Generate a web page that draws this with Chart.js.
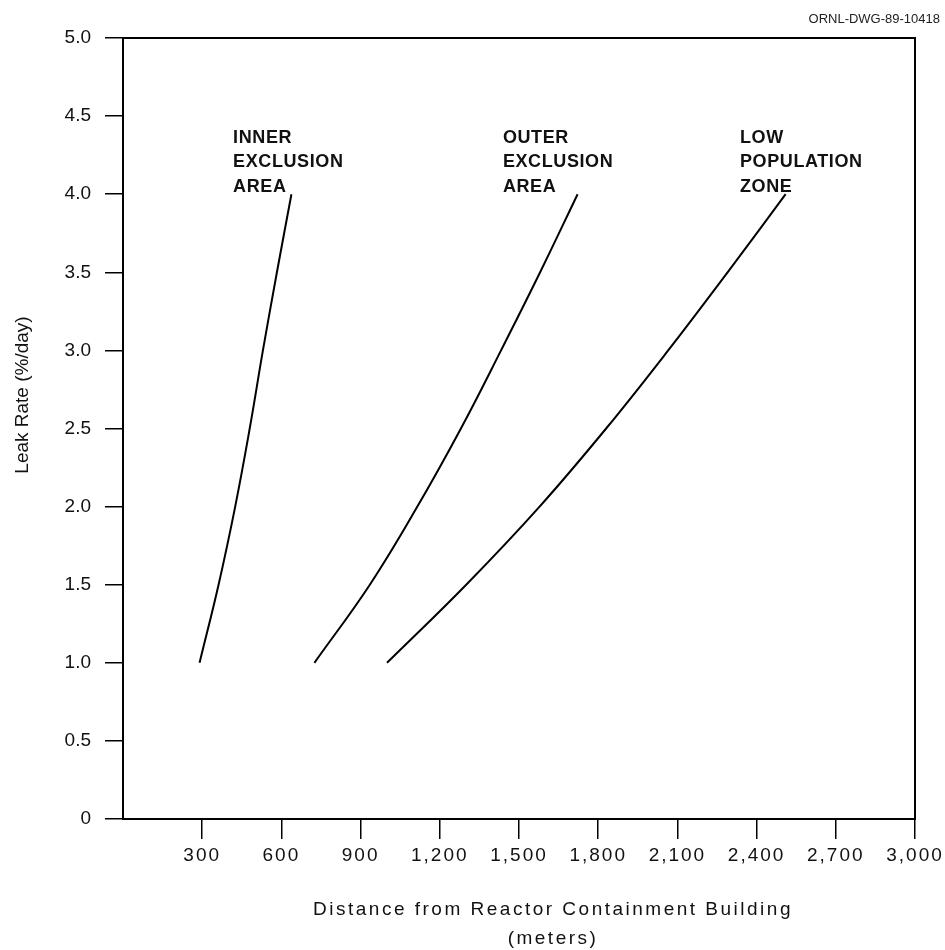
<!DOCTYPE html>
<html>
<head>
<meta charset="utf-8">
<script src="https://cdn.jsdelivr.net/npm/chart.js@4/dist/chart.umd.min.js"></script>
<style>
html,body{margin:0;padding:0;background:#fff;}
#wrap{width:945px;height:950px;}
</style>
</head>
<body>
<div id="wrap"><canvas id="c" width="945" height="950"></canvas></div>
<script>
// ---- data ----
const leakRates = [1.0, 1.5, 2.0, 2.5, 3.0, 3.5, 4.0];           // % per day
const innerExclusionDist = [290, 362, 425, 480, 530, 583, 638];  // meters
const outerExclusionDist = [725, 935, 1115, 1280, 1432, 1580, 1722];
const lowPopulationDist  = [1000, 1300, 1578, 1830, 2065, 2290, 2510];
const seriesNames = ['Inner Exclusion Area', 'Outer Exclusion Area', 'Low Population Zone'];
const curveLabels = [
  ['INNER', 'EXCLUSION', 'AREA'],
  ['OUTER', 'EXCLUSION', 'AREA'],
  ['LOW', 'POPULATION', 'ZONE']
];
const xTickValues = [300, 600, 900, 1200, 1500, 1800, 2100, 2400, 2700, 3000];
const yTickValues = [0, 0.5, 1.0, 1.5, 2.0, 2.5, 3.0, 3.5, 4.0, 4.5, 5.0];
const xTitleLines = ['Distance from Reactor Containment Building', '(meters)'];
const yTitle = 'Leak Rate (%/day)';
const drawingId = 'ORNL-DWG-89-10418';

const FONT = "'Liberation Sans', Arial, Helvetica, sans-serif";
const INK = '#111';

function toPoints(xs, ys) { return xs.map((x, i) => ({ x: x, y: ys[i] })); }

const allSeries = [innerExclusionDist, outerExclusionDist, lowPopulationDist];

const decorPlugin = {
  id: 'decor',
  beforeDraw(chart) {
    const xs = chart.scales.x;
    if (!xs._lsPatched) {
      const orig = xs.drawLabels.bind(xs);
      xs.drawLabels = function (area) {
        const ctx = this.ctx;
        const prev = ctx.letterSpacing;
        ctx.letterSpacing = '2px';
        orig(area);
        ctx.letterSpacing = prev || '0px';
      };
      xs._lsPatched = true;
    }
  },
  afterDraw(chart) {
    const ctx = chart.ctx;
    const a = chart.chartArea;
    const sx = chart.scales.x, sy = chart.scales.y;
    ctx.save();
    // frame
    ctx.strokeStyle = '#000';
    ctx.lineWidth = 2;
    ctx.strokeRect(a.left, a.top, a.right - a.left, a.bottom - a.top);

    // curve labels (anchored in data coordinates)
    const anchors = [[417, 4.36], [1439, 4.36], [2337, 4.36]];
    ctx.fillStyle = INK;
    ctx.font = 'bold 18px ' + FONT;
    ctx.textAlign = 'left';
    ctx.textBaseline = 'middle';
    ctx.letterSpacing = '0.6px';
    curveLabels.forEach((lines, i) => {
      const px = sx.getPixelForValue(anchors[i][0]);
      const py = sy.getPixelForValue(anchors[i][1]);
      lines.forEach((t, j) => ctx.fillText(t, px, py + j * 24.5));
    });

    // x title
    ctx.font = '19px ' + FONT;
    ctx.textAlign = 'center';
    ctx.letterSpacing = '2.5px';
    ctx.fillText(xTitleLines[0], 553, 910);
    ctx.fillText(xTitleLines[1], 553, 939);

    // y title
    ctx.letterSpacing = '0px';
    ctx.save();
    ctx.translate(23, 395);
    ctx.rotate(-Math.PI / 2);
    ctx.fillText(yTitle, 0, 0);
    ctx.restore();

    // drawing id
    ctx.font = '13px ' + FONT;
    ctx.textAlign = 'right';
    ctx.fillStyle = '#222';
    ctx.fillText(drawingId, 940, 19);
    ctx.restore();
  }
};

new Chart(document.getElementById('c'), {
  type: 'scatter',
  data: {
    datasets: allSeries.map((xs, i) => ({
      label: seriesNames[i],
      data: toPoints(xs, leakRates),
      showLine: true,
      borderColor: '#000',
      borderWidth: 2,
      pointRadius: 0,
      tension: 0.4,
      fill: false
    }))
  },
  options: {
    responsive: false,
    animation: false,
    layout: { padding: { top: 38, right: 30, left: 0, bottom: 0 } },
    plugins: { legend: { display: false }, tooltip: { enabled: false }, title: { display: false } },
    scales: {
      x: {
        type: 'linear',
        min: 0, max: 3000,
        afterBuildTicks: (s) => { s.ticks = xTickValues.map(v => ({ value: v })); },
        afterFit: (s) => { s.height = 131; },
        ticks: {
          color: INK,
          font: { family: FONT, size: 19 },
          padding: 5,
          maxRotation: 0,
          autoSkip: false,
          callback: (v) => Number(v).toLocaleString('en-US')
        },
        grid: { display: true, drawOnChartArea: false, drawTicks: true, tickLength: 20, color: '#000', lineWidth: 1.5 },
        border: { display: true, color: '#000', width: 2 }
      },
      y: {
        type: 'linear',
        min: 0, max: 5,
        afterBuildTicks: (s) => { s.ticks = yTickValues.map(v => ({ value: v })); },
        afterFit: (s) => { s.width = 123; },
        ticks: {
          color: INK,
          font: { family: FONT, size: 19 },
          padding: 14,
          autoSkip: false,
          callback: (v) => (v === 0 ? '0' : Number(v).toFixed(1))
        },
        grid: { display: true, drawOnChartArea: false, drawTicks: true, tickLength: 18, color: '#000', lineWidth: 1.5 },
        border: { display: true, color: '#000', width: 2 }
      }
    }
  },
  plugins: [decorPlugin]
});
</script>
</body>
</html>
